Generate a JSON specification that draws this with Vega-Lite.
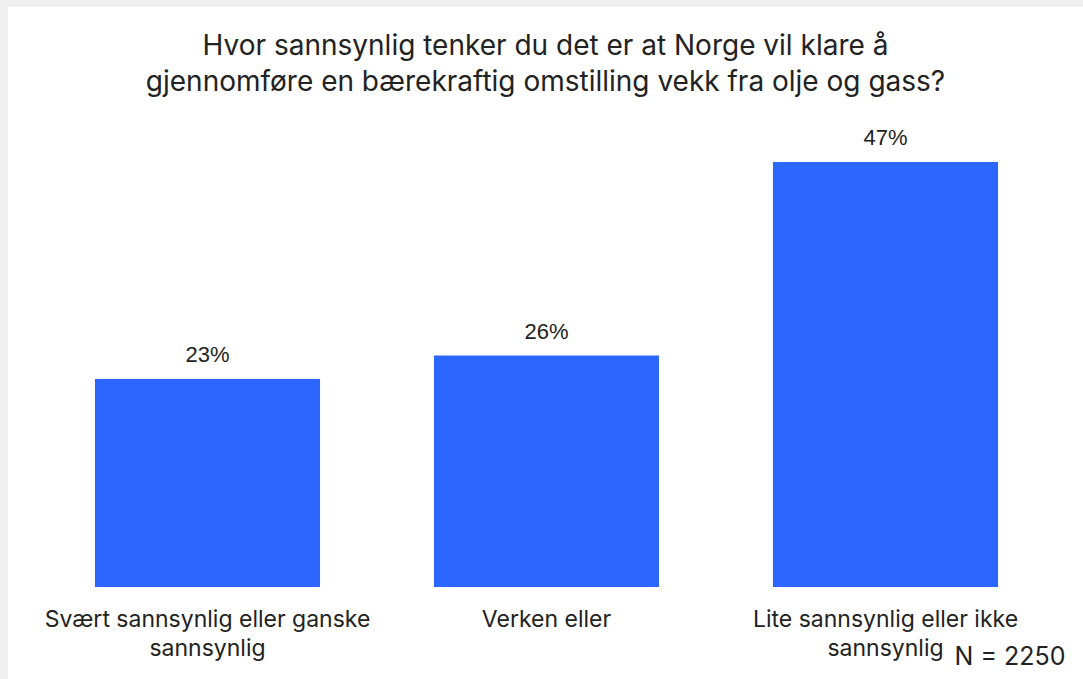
{
  "$schema": "https://vega.github.io/schema/vega-lite/v6.json",
  "width": 1075,
  "height": 672,
  "autosize": "none",
  "padding": {"left": 8, "top": 7, "right": 0, "bottom": 0},
  "background": "#efefef",
  "view": {"fill": "white", "stroke": null},
  "title": {
    "text": ["Hvor sannsynlig tenker du det er at Norge vil klare å", "gjennomføre en bærekraftig omstilling vekk fra olje og gass?"],
    "font": "Inter",
    "fontSize": 28,
    "fontWeight": "normal",
    "color": "#222222",
    "anchor": "middle",
    "offset": -90,
    "lineHeight": 36
  },
  "data": {
    "values": [
      {"category": "Svært sannsynlig eller ganske|sannsynlig", "value": 23.0, "label": "23%"},
      {"category": "Verken eller", "value": 25.6, "label": "26%"},
      {"category": "Lite sannsynlig eller ikke|sannsynlig", "value": 47.0, "label": "47%"}
    ]
  },
  "encoding": {
    "x": {
      "field": "category",
      "type": "nominal",
      "sort": null,
      "scale": {"range": [30, 1047], "paddingInner": 0.336, "paddingOuter": 0.168},
      "axis": {
        "domain": false,
        "ticks": false,
        "labelAngle": 0,
        "labelPadding": -71,
        "labelFont": "Inter",
        "labelFontSize": 23,
        "labelColor": "#222222",
        "labelLineHeight": 29,
        "labelExpr": "split(datum.label, '|')",
        "labelLimit": 0,
        "title": "N = 2250",
        "titleFont": "Inter",
        "titleFontSize": 25,
        "titleFontWeight": "normal",
        "titleColor": "#222222",
        "titleX": 1057,
        "titleY": -23,
        "titleAlign": "right",
        "titleBaseline": "middle"
      }
    },
    "y": {
      "field": "value",
      "type": "quantitative",
      "scale": {"domain": [0, 50], "range": [580, 128]},
      "axis": null
    }
  },
  "layer": [
    {"mark": {"type": "bar", "color": "#2b67ff"}},
    {
      "mark": {"type": "text", "baseline": "alphabetic", "dy": -17, "font": "Liberation Sans", "fontSize": 22, "color": "#222222"},
      "encoding": {"text": {"field": "label"}}
    }
  ]
}
